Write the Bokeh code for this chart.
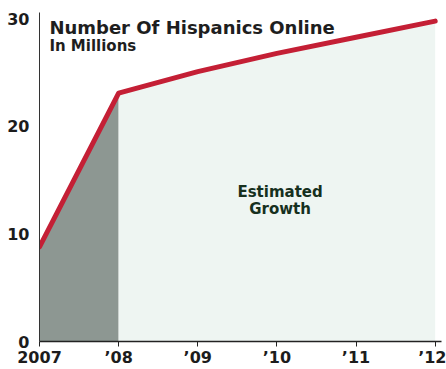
from bokeh.plotting import figure
from bokeh.models import Range1d, Label, FixedTicker
from bokeh.embed import file_html
from bokeh.resources import INLINE

# Hispanics online, in millions (2007 actual, 2008 onward estimated)
years = [2007, 2008, 2009, 2010, 2011, 2012]
users = [8.8, 23.1, 25.1, 26.8, 28.3, 29.8]
tick_labels = ["2007", "\u201908", "\u201909", "\u201910", "\u201911", "\u201912"]
y_ticks = [0, 10, 20, 30]

FONT = "DejaVu Sans"

p = figure(width=446, height=369, output_backend="svg", toolbar_location=None,
           x_range=Range1d(2007, 2012.08), y_range=Range1d(0, 30.6),
           min_border_left=39, min_border_right=5, min_border_top=12,
           min_border_bottom=25)
p.background_fill_color = "white"
p.border_fill_color = "white"
p.outline_line_color = None
p.grid.visible = False

# shaded areas under the curve: actual year dark, estimated years light
p.varea(x=years[:2], y1=[0, 0], y2=users[:2], fill_color="#8d9792")
p.varea(x=years[1:], y1=[0] * 5, y2=users[1:], fill_color="#eef5f2")

p.line(years, users, line_color="#c41f35", line_width=5,
       line_cap="round", line_join="round")

# axes
p.xaxis.ticker = FixedTicker(ticks=years)
p.xaxis.major_label_overrides = {y: t for y, t in zip(years, tick_labels)}
p.xaxis.axis_line_color = "#222222"
p.xaxis.axis_line_width = 1.5
p.xaxis.major_tick_line_color = "#222222"
p.xaxis.major_tick_in = 0
p.xaxis.major_tick_out = 5
p.xaxis.minor_tick_line_color = None
p.xaxis.major_label_standoff = 1
p.xaxis.major_label_text_font = FONT
p.xaxis.major_label_text_font_style = "bold"
p.xaxis.major_label_text_font_size = "16px"
p.xaxis.major_label_text_color = "#1c1c1c"

p.yaxis.ticker = FixedTicker(ticks=y_ticks)
p.yaxis.axis_line_color = "#333333"
p.yaxis.axis_line_width = 1
p.yaxis.major_tick_line_color = None
p.yaxis.minor_tick_line_color = None
p.yaxis.major_label_standoff = 4
p.yaxis.major_label_text_font = FONT
p.yaxis.major_label_text_font_style = "bold"
p.yaxis.major_label_text_font_size = "16px"
p.yaxis.major_label_text_color = "#1c1c1c"

# headings
p.add_layout(Label(x=2007.125, y=29.2, text="Number Of Hispanics Online",
                   text_font=FONT, text_font_style="bold", text_font_size="18px",
                   text_color="#1e1e1e", text_baseline="alphabetic"))
p.add_layout(Label(x=2007.125, y=27.45, text="In Millions",
                   text_font=FONT, text_font_style="bold", text_font_size="15px",
                   text_color="#1e1e1e", text_baseline="alphabetic"))

p.add_layout(Label(x=2010.04, y=13.9, text="Estimated",
                   text_font=FONT, text_font_style="bold", text_font_size="15px",
                   text_color="#16301e", text_align="center",
                   text_baseline="alphabetic"))
p.add_layout(Label(x=2010.04, y=12.3, text="Growth",
                   text_font=FONT, text_font_style="bold", text_font_size="15px",
                   text_color="#16301e", text_align="center",
                   text_baseline="alphabetic"))

open("out.html", "w").write(file_html(p, INLINE))
